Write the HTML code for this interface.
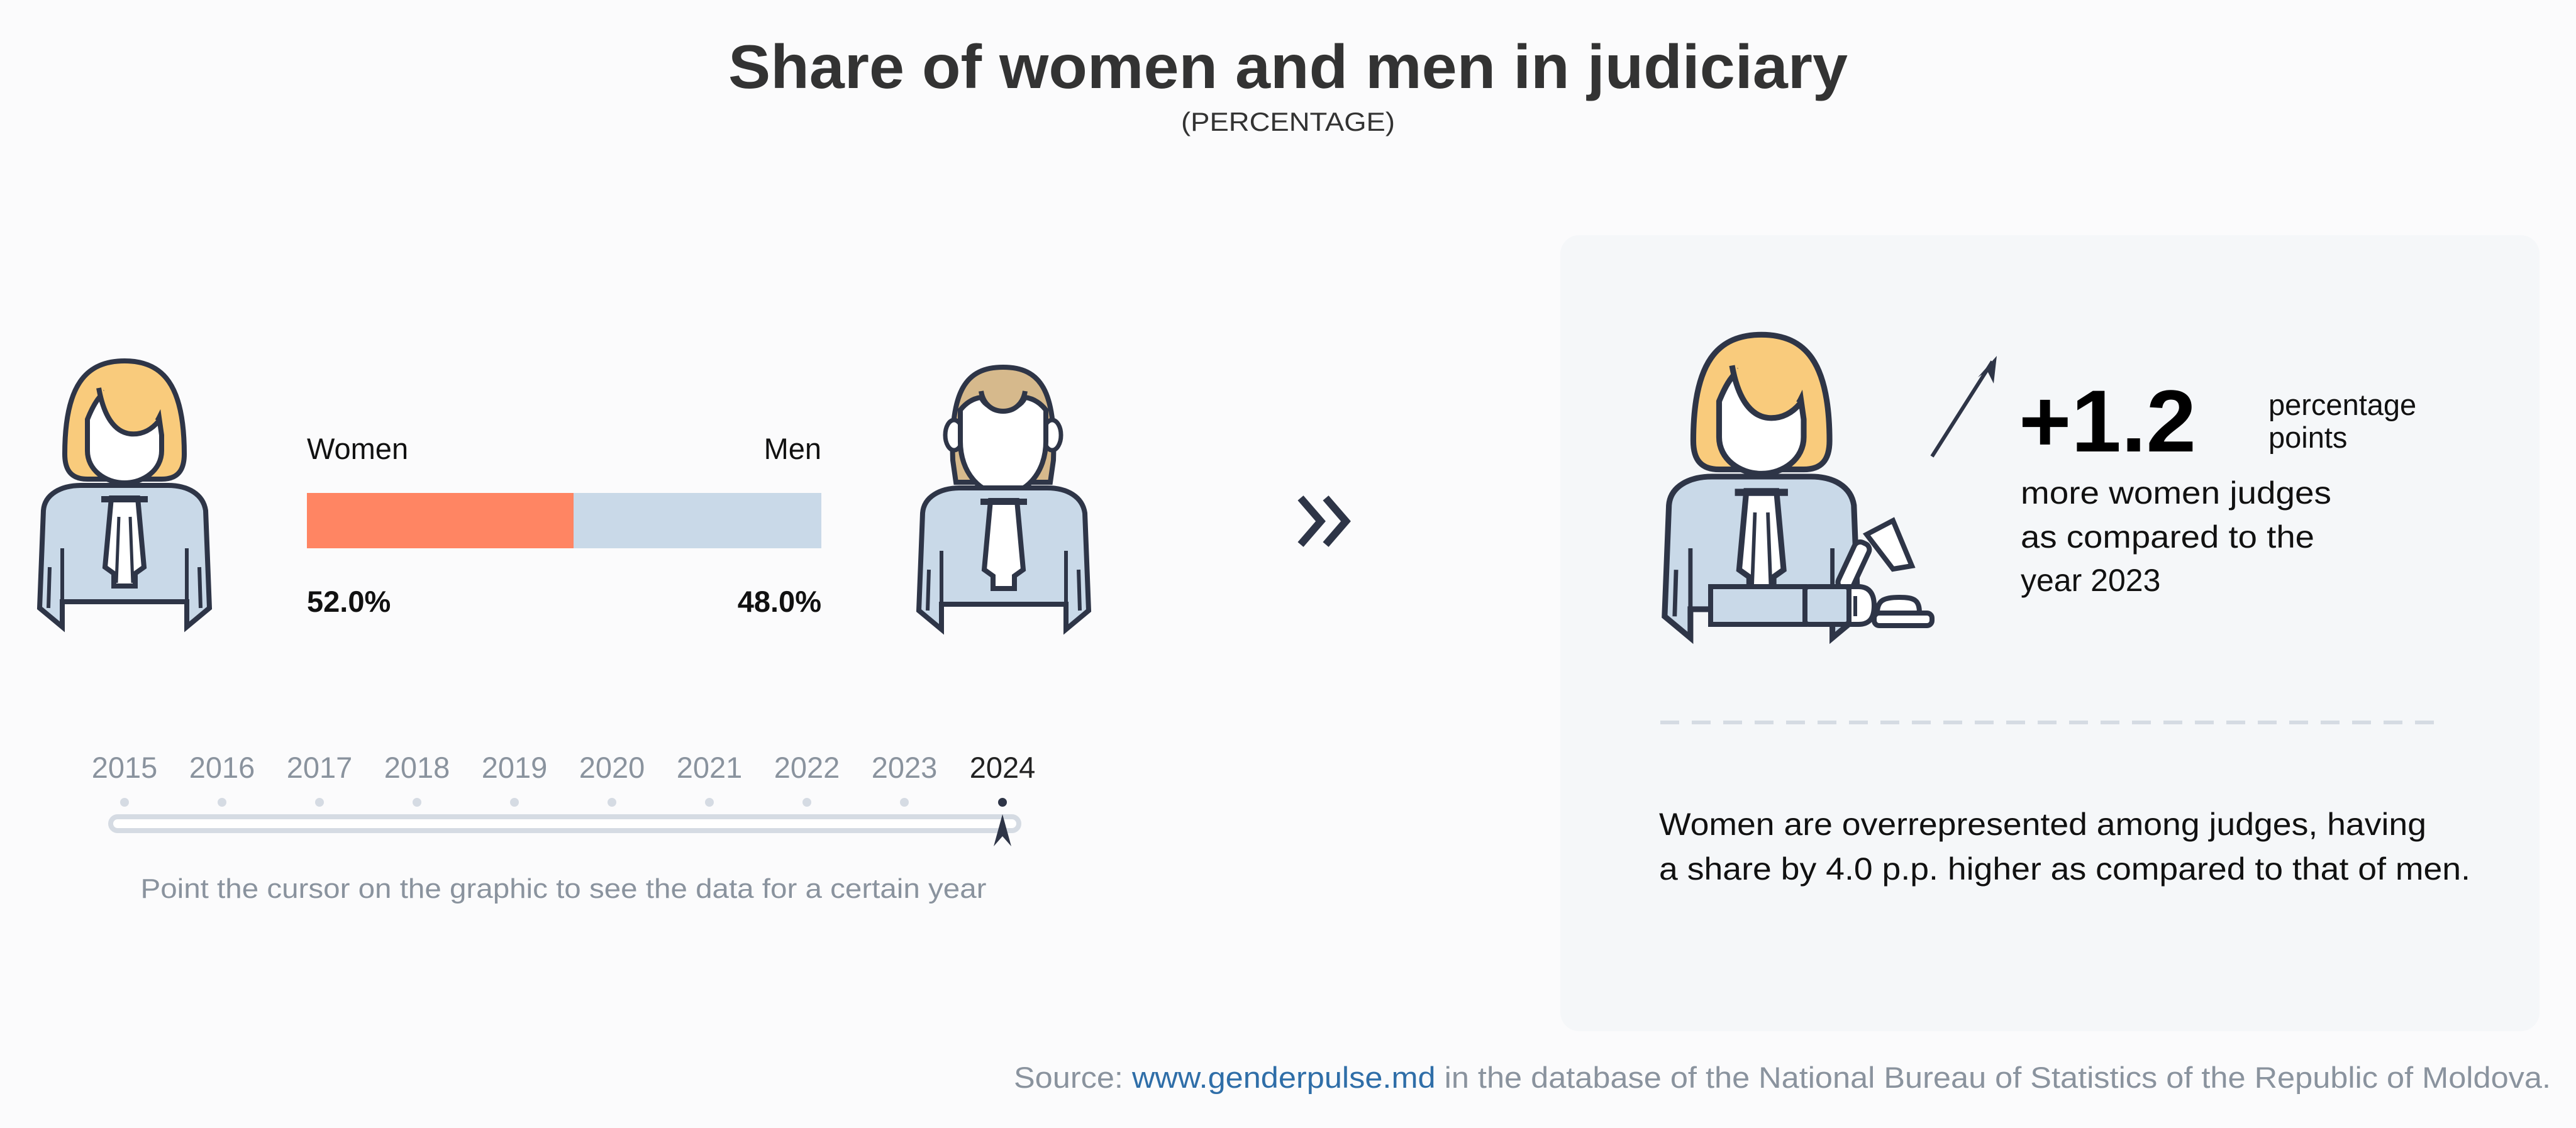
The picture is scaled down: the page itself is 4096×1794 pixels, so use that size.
<!DOCTYPE html>
<html><head><meta charset="utf-8"><style>
html,body{margin:0;padding:0;background:#fbfbfc;}
svg{display:block;}
text{font-family:"Liberation Sans",sans-serif;}
</style></head><body>
<svg width="4096" height="1794" viewBox="0 0 4096 1794" xmlns="http://www.w3.org/2000/svg">
<defs>
<g id="woman">
  <path d="M46 150 C46 40 80 2 141 2 C202 2 236 40 236 150 C236 178 224 190 200 190 L82 190 C58 190 46 178 46 150 Z" fill="#f9cb7c" stroke="#2e3547" stroke-width="8"/>
  <path d="M82 95 C92 70 100 60 106 55 C120 100 150 122 175 112 C185 108 192 100 196 92 L200 120 L200 145 C200 175 172 196 141 196 C110 196 82 175 82 145 Z" fill="#fff" stroke="#2e3547" stroke-width="8"/>
  <path d="M100 45 C108 90 125 115 150 118 C170 120 185 110 195 98" fill="#f9cb7c" stroke="#2e3547" stroke-width="8"/>
  <path d="M6 395 L12 240 C14 214 40 200 72 200 L210 200 C242 200 266 214 270 240 L276 395 L240 425 L240 385 L42 385 L42 425 Z" fill="#c9d9e8" stroke="#2e3547" stroke-width="8"/>
  <line x1="42" y1="300" x2="42" y2="385" stroke="#2e3547" stroke-width="6"/>
  <line x1="240" y1="300" x2="240" y2="385" stroke="#2e3547" stroke-width="6"/>
  <line x1="22" y1="330" x2="20" y2="395" stroke="#2e3547" stroke-width="6"/>
  <line x1="260" y1="330" x2="262" y2="395" stroke="#2e3547" stroke-width="6"/>
  <path d="M120 220 L110 330 L124 340 L124 360 L158 360 L158 340 L172 330 L162 220 Z" fill="#fff" stroke="#2e3547" stroke-width="8"/>
  <line x1="104" y1="222" x2="178" y2="222" stroke="#2e3547" stroke-width="10"/>
  <line x1="132" y1="250" x2="128" y2="355" stroke="#2e3547" stroke-width="5"/>
  <line x1="150" y1="250" x2="154" y2="355" stroke="#2e3547" stroke-width="5"/>
</g>
</defs>
<!-- title -->
<text x="2048" y="140" text-anchor="middle" font-size="98" font-weight="bold" fill="#333" textLength="1780" lengthAdjust="spacingAndGlyphs">Share of women and men in judiciary</text>
<text x="2048" y="208" text-anchor="middle" font-size="42" fill="#333" textLength="340" lengthAdjust="spacingAndGlyphs">(PERCENTAGE)</text>

<!-- right panel -->
<rect x="2481" y="374" width="1557" height="1266" rx="30" fill="#f5f7f9"/>

<!-- woman icon left -->
<use href="#woman" transform="translate(57,572)"/>
<!-- man icon -->
<g transform="translate(1455,582)">
  <path d="M60 150 C56 40 80 2 140 2 C200 2 224 40 220 150 L215 185 L65 185 Z" fill="#d6b98c" stroke="#2e3547" stroke-width="8"/>
  <ellipse cx="62" cy="110" rx="14" ry="24" fill="#fff" stroke="#2e3547" stroke-width="7"/>
  <ellipse cx="218" cy="110" rx="14" ry="24" fill="#fff" stroke="#2e3547" stroke-width="7"/>
  <path d="M72 120 L72 70 C80 60 90 52 105 50 C110 62 125 70 140 70 C155 70 170 62 175 50 C190 52 200 60 208 70 L208 120 C208 170 176 204 140 204 C104 204 72 170 72 120 Z" fill="#fff" stroke="#2e3547" stroke-width="8"/>
  <path d="M105 40 C108 60 122 72 140 72 C158 72 172 60 175 40" fill="#d6b98c" stroke="#2e3547" stroke-width="8"/>
  <g transform="translate(0,-6)">
  <path d="M6 395 L12 240 C14 214 40 200 72 200 L210 200 C242 200 266 214 270 240 L276 395 L240 425 L240 385 L42 385 L42 425 Z" fill="#c9d9e8" stroke="#2e3547" stroke-width="8"/>
  <line x1="42" y1="300" x2="42" y2="385" stroke="#2e3547" stroke-width="6"/>
  <line x1="240" y1="300" x2="240" y2="385" stroke="#2e3547" stroke-width="6"/>
  <line x1="22" y1="330" x2="20" y2="395" stroke="#2e3547" stroke-width="6"/>
  <line x1="260" y1="330" x2="262" y2="395" stroke="#2e3547" stroke-width="6"/>
  <path d="M120 220 L110 330 L124 340 L124 360 L158 360 L158 340 L172 330 L162 220 Z" fill="#fff" stroke="#2e3547" stroke-width="8"/>
  <line x1="104" y1="222" x2="178" y2="222" stroke="#2e3547" stroke-width="10"/>
  </g>
</g>

<!-- bar -->
<text x="488" y="730" font-size="47" fill="#111">Women</text>
<text x="1306" y="730" font-size="47" fill="#111" text-anchor="end">Men</text>
<rect x="488" y="784" width="424" height="88" fill="#ff8563"/>
<rect x="912" y="784" width="394" height="88" fill="#c9d9e8"/>
<text x="488" y="973" font-size="47" font-weight="bold" fill="#111">52.0%</text>
<text x="1306" y="973" font-size="47" font-weight="bold" fill="#111" text-anchor="end">48.0%</text>

<!-- chevrons -->
<path d="M2068 792 L2100 829 L2068 866 M2108 792 L2140 829 L2108 866" fill="none" stroke="#2e3547" stroke-width="12" stroke-linejoin="miter"/>

<!-- timeline -->
<g font-size="47" fill="#8a939e" text-anchor="middle">
<text x="198" y="1237">2015</text><text x="353" y="1237">2016</text><text x="508" y="1237">2017</text>
<text x="663" y="1237">2018</text><text x="818" y="1237">2019</text><text x="973" y="1237">2020</text>
<text x="1128" y="1237">2021</text><text x="1283" y="1237">2022</text><text x="1438" y="1237">2023</text>
<text x="1594" y="1237" fill="#222">2024</text>
</g>
<g fill="#d5dbe3">
<circle cx="198" cy="1276" r="7"/><circle cx="353" cy="1276" r="7"/><circle cx="508" cy="1276" r="7"/>
<circle cx="663" cy="1276" r="7"/><circle cx="818" cy="1276" r="7"/><circle cx="973" cy="1276" r="7"/>
<circle cx="1128" cy="1276" r="7"/><circle cx="1283" cy="1276" r="7"/><circle cx="1438" cy="1276" r="7"/>
</g>
<circle cx="1594" cy="1276" r="7" fill="#2e3547"/>
<rect x="176" y="1299" width="1444" height="22" rx="11" fill="#fff" stroke="#d5dbe3" stroke-width="8"/>
<path d="M1594 1295 L1608 1346 L1594 1330 L1580 1346 Z" fill="#2e3547"/>
<text x="896" y="1428" font-size="44" fill="#8a939e" text-anchor="middle" textLength="1345" lengthAdjust="spacingAndGlyphs">Point the cursor on the graphic to see the data for a certain year</text>

<!-- judge -->
<use href="#woman" transform="translate(2640,530) scale(1.14)"/>
<g stroke="#2e3547" stroke-width="8" fill="#c9d9e8">
  <path d="M2968 850 L3010 828 L3040 900 L3010 905 Z" fill="#fff"/>
  <rect x="2935" y="860" width="25" height="80" rx="10" transform="rotate(25 2947 900)" fill="#fff"/>
  <rect x="2720" y="933" width="150" height="60" fill="#c9d9e8"/>
  <rect x="2870" y="933" width="70" height="60" rx="6" fill="#c9d9e8"/>
  <path d="M2940 933 L2955 933 C2975 933 2980 948 2980 963 C2980 980 2975 993 2955 993 L2940 993 Z" fill="#fff"/>
  <line x1="2950" y1="948" x2="2950" y2="980" stroke-width="6"/>
  <path d="M2985 975 C2985 955 2995 950 3020 950 C3045 950 3052 955 3052 975 Z" fill="#fff"/>
  <rect x="2980" y="975" width="92" height="20" rx="8" fill="#fff"/>
</g>
<line x1="3072" y1="726" x2="3168" y2="575" stroke="#2e3547" stroke-width="6"/>
<path d="M3175 566 L3170 610 L3160 590 L3145 600 Z" fill="#2e3547"/>

<text x="3210" y="718" font-size="140" font-weight="bold" fill="#000" textLength="282" lengthAdjust="spacingAndGlyphs">+1.2</text>
<text x="3607" y="660" font-size="47" fill="#111">percentage</text>
<text x="3607" y="712" font-size="47" fill="#111">points</text>
<g font-size="50" fill="#111">
<text x="3213" y="801" textLength="494" lengthAdjust="spacingAndGlyphs">more women judges</text>
<text x="3213" y="871" textLength="467" lengthAdjust="spacingAndGlyphs">as compared to the</text>
<text x="3213" y="940">year 2023</text>
</g>
<line x1="2640" y1="1149" x2="3882" y2="1149" stroke="#d5dbe3" stroke-width="6" stroke-dasharray="30 20"/>
<g font-size="50" fill="#111">
<text x="2638" y="1328" textLength="1220" lengthAdjust="spacingAndGlyphs">Women are overrepresented among judges, having</text>
<text x="2638" y="1399" textLength="1290" lengthAdjust="spacingAndGlyphs">a share by 4.0 p.p. higher as compared to that of men.</text>
</g>

<!-- source -->
<text x="4056" y="1730" font-size="47" fill="#8a939e" text-anchor="end" textLength="2444" lengthAdjust="spacingAndGlyphs">Source: <tspan fill="#2f6ea8">www.genderpulse.md</tspan> in the database of the National Bureau of Statistics of the Republic of Moldova.</text>
</svg>
</body></html>
